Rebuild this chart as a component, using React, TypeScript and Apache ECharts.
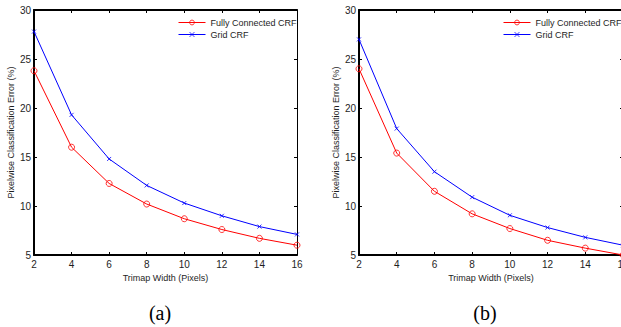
import React, { useEffect, useRef } from "react";
import * as echarts from "echarts";

const trimapWidths = [2, 4, 6, 8, 10, 12, 14, 16];
const fullyConnectedA = [23.8, 16.0, 12.3, 10.2, 8.7, 7.6, 6.7, 6.0];
const gridCrfA = [27.8, 19.3, 14.8, 12.1, 10.3, 9.0, 7.9, 7.1];
const fullyConnectedB = [24.0, 15.4, 11.5, 9.2, 7.7, 6.5, 5.7, 5.0];
const gridCrfB = [27.0, 17.9, 13.5, 10.9, 9.05, 7.8, 6.8, 6.0];
const xRange = { min: 2, max: 16, interval: 2 };
const yRange = { min: 5, max: 30, interval: 5 };
const seriesNames = ["Fully Connected CRF", "Grid CRF"];
const captions = ["(a)", "(b)"];
const xAxisName = "Trimap Width (Pixels)";
const yAxisName = "Pixelwise Classification Error (%)";

const FONT = '"Liberation Sans", Arial, Helvetica, sans-serif';
const TXT = "#1e1e1e";
const RED = "#ff0000";
const BLUE = "#0000ff";
const circleStyle = { color: "rgba(255,255,255,0)", borderColor: RED, borderWidth: 0.8 };
const crossStyle = { color: BLUE, borderColor: BLUE, borderWidth: 0.8 };

function pairs(ys: number[]) {
  return trimapWidths.map((x, i) => [x, ys[i]]);
}

function xAxes(gridIndex: number) {
  const common = {
    type: "value",
    gridIndex,
    ...xRange,
    splitLine: { show: false },
    axisTick: { show: true, inside: true, length: 3, lineStyle: { color: "#000", width: 1 } },
  };
  return [
    {
      ...common,
      position: "bottom",
      axisLine: { show: true, onZero: false, lineStyle: { color: "#000", width: 2 } },
      axisLabel: { show: true, fontSize: 10, margin: 4, color: TXT, fontFamily: FONT },
      name: xAxisName,
      nameLocation: "middle",
      nameGap: 17,
      nameTextStyle: { fontSize: 9, color: TXT, fontFamily: FONT },
    },
    {
      ...common,
      position: "top",
      axisLine: { show: true, onZero: false, lineStyle: { color: "#000", width: 2 } },
      axisLabel: { show: false },
    },
  ];
}

function yAxes(gridIndex: number) {
  const common = {
    type: "value",
    gridIndex,
    ...yRange,
    splitLine: { show: false },
    axisTick: { show: true, inside: true, length: 3, lineStyle: { color: "#000", width: 1 } },
  };
  return [
    {
      ...common,
      position: "left",
      axisLine: { show: true, onZero: false, lineStyle: { color: "#000", width: 2 } },
      axisLabel: { show: true, fontSize: 10, margin: 3, color: TXT, fontFamily: FONT },
      name: yAxisName,
      nameLocation: "middle",
      nameGap: 13,
      nameTextStyle: { fontSize: 9, color: TXT, fontFamily: FONT },
    },
    {
      ...common,
      position: "right",
      axisLine: { show: true, onZero: false, lineStyle: { color: "#000", width: 1 } },
      axisLabel: { show: false },
    },
  ];
}

function seriesFor(axisIndex: number, fc: number[], grid: number[]) {
  return [
    {
      type: "line",
      name: seriesNames[0],
      xAxisIndex: axisIndex,
      yAxisIndex: axisIndex,
      data: pairs(fc),
      symbol: "circle",
      symbolSize: 6,
      color: RED,
      lineStyle: { color: RED, width: 1 },
      itemStyle: circleStyle,
      clip: false,
    },
    {
      type: "line",
      name: seriesNames[1],
      xAxisIndex: axisIndex,
      yAxisIndex: axisIndex,
      data: pairs(grid),
      symbol: "path://M0,0L10,10M10,0L0,10",
      symbolSize: 4,
      color: BLUE,
      lineStyle: { color: BLUE, width: 1 },
      itemStyle: crossStyle,
      clip: false,
    },
  ];
}

function legendAt(left: number) {
  return {
    left,
    top: 18,
    orient: "vertical",
    padding: 0,
    itemWidth: 27,
    itemHeight: 6,
    itemGap: 3,
    selectedMode: false,
    data: [
      { name: seriesNames[0], itemStyle: circleStyle, lineStyle: { color: RED, width: 1 } },
      { name: seriesNames[1], itemStyle: crossStyle, lineStyle: { color: BLUE, width: 1 } },
    ],
    textStyle: { fontSize: 9, color: TXT, fontFamily: FONT, lineHeight: 9 },
  };
}

export default function App() {
  const ref = useRef<HTMLDivElement>(null);
  useEffect(() => {
    if (!ref.current) return;
    const chart = echarts.init(ref.current, null, { renderer: "svg" });
    chart.setOption({
      animation: false,
      backgroundColor: "#ffffff",
      grid: [
        { left: 34, top: 10, width: 263, height: 245, containLabel: false, outerBoundsMode: "none" },
        { left: 359, top: 10, width: 264, height: 245, containLabel: false, outerBoundsMode: "none" },
      ],
      xAxis: [...xAxes(0), ...xAxes(1)],
      yAxis: [...yAxes(0), ...yAxes(1)],
      legend: [legendAt(178), legendAt(503)],
      series: [
        ...seriesFor(0, fullyConnectedA, gridCrfA),
        ...seriesFor(2, fullyConnectedB, gridCrfB),
      ],
      graphic: [
        {
          type: "text",
          x: 160,
          y: 313,
          style: {
            text: captions[0],
            font: '20px "Liberation Serif", "Times New Roman", serif',
            fill: "#000",
            align: "center",
            verticalAlign: "middle",
          },
        },
        {
          type: "text",
          x: 485,
          y: 313,
          style: {
            text: captions[1],
            font: '20px "Liberation Serif", "Times New Roman", serif',
            fill: "#000",
            align: "center",
            verticalAlign: "middle",
          },
        },
      ],
    });
    return () => chart.dispose();
  }, []);
  return (
    <div
      ref={ref}
      style={{ position: "fixed", left: 0, top: 0, width: 621, height: 327, background: "#fff" }}
    />
  );
}
